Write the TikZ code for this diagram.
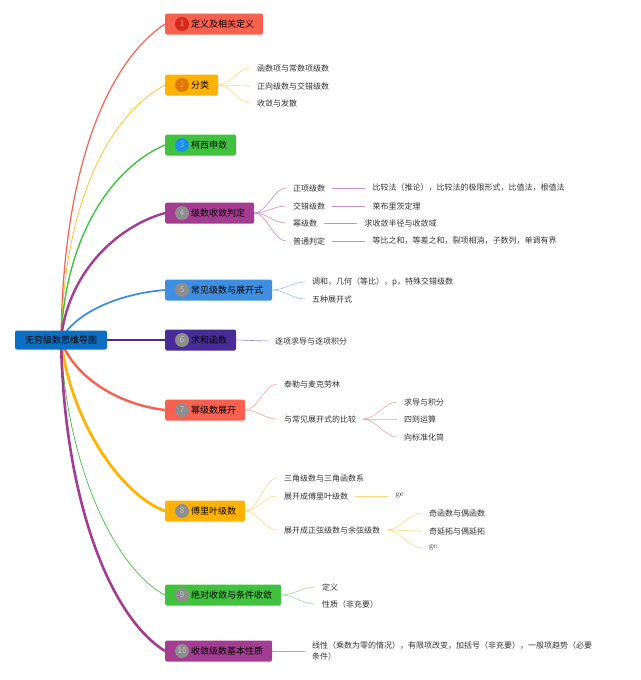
\documentclass[tikz,border=0pt]{standalone}
\usepackage{fontspec}
\newfontfamily\cjk{Noto Sans CJK SC}
\usetikzlibrary{positioning,backgrounds}

\definecolor{mmred}{HTML}{F8604F}
\definecolor{mmredd}{HTML}{D42A1C}
\definecolor{mmredl}{HTML}{F8A59C}
\definecolor{mmamber}{HTML}{FFB300}
\definecolor{mmamberd}{HTML}{E07800}
\definecolor{mmamberl}{HTML}{FFD77F}
\definecolor{mmgreen}{HTML}{41C23F}
\definecolor{mmgreenl}{HTML}{98DC94}
\definecolor{mmpurple}{HTML}{A43D92}
\definecolor{mmpurplel}{HTML}{D08CC5}
\definecolor{mmblue}{HTML}{3F8FE0}
\definecolor{mmbluel}{HTML}{98C3F0}
\definecolor{mmindigo}{HTML}{482C98}
\definecolor{mmindigol}{HTML}{9A8ACF}
\definecolor{mmroot}{HTML}{0B6FC4}
\definecolor{mmdot}{HTML}{8E8E8E}
\definecolor{mmdotnum}{HTML}{C4C4C4}
\definecolor{mmcyan}{HTML}{1E8FE6}
\definecolor{mmcyanl}{HTML}{6DB8F0}
\definecolor{mmamberdl}{HTML}{F5A040}
\definecolor{mmtext}{HTML}{333333}

\tikzset{
  branch/.style={anchor=west, fill=#1, rounded corners=1.5pt, minimum height=21pt,
    inner xsep=9pt, inner ysep=0pt, font=\cjk\fontsize{9}{9}\selectfont, text=black},
  numdot/.style={circle, fill=#1, minimum size=14pt, inner sep=0pt,
    font=\cjk\fontsize{8}{8}\selectfont},
  leaf/.style={anchor=west, inner xsep=7pt, inner ysep=1pt,
    font=\cjk\fontsize{8}{10}\selectfont, text=mmtext},
  gleaf/.style={leaf, font=\rmfamily\fontsize{8}{9}\selectfont},
  trunk/.style={draw=#1},
  twig/.style={draw=#1, line width=0.6pt},
}

\begin{document}
\begin{tikzpicture}[x=1pt,y=-1pt]
\useasboundingbox (0,0) rectangle (640,680);

% root
\node[fill=mmroot, rounded corners=2pt, minimum height=19pt, inner xsep=10pt, inner ysep=0pt,
  font=\cjk\fontsize{9}{9}\selectfont] (root) at (61,340) {无穷级数思维导图};

% main branches
\node[branch=mmred] (b1) at (165,24) {\hspace*{17pt}定义及相关定义};
\node[numdot=mmredd, text=mmredl] (n1) at ([xshift=17pt]b1.west) {1};
\node[branch=mmamber] (b2) at (165,85) {\hspace*{17pt}分类};
\node[numdot=mmamberd, text=mmamberdl] (n2) at ([xshift=17pt]b2.west) {2};
\node[branch=mmgreen] (b3) at (165,145) {\hspace*{17pt}柯西申敛};
\node[numdot=mmcyan, text=mmcyanl] (n3) at ([xshift=17pt]b3.west) {3};
\node[branch=mmpurple] (b4) at (165,213) {\hspace*{17pt}级数收敛判定};
\node[numdot=mmdot, text=mmdotnum] (n4) at ([xshift=17pt]b4.west) {4};
\node[branch=mmblue] (b5) at (165,290) {\hspace*{17pt}常见级数与展开式};
\node[numdot=mmdot, text=mmdotnum] (n5) at ([xshift=17pt]b5.west) {5};
\node[branch=mmindigo] (b6) at (165,340) {\hspace*{17pt}求和函数};
\node[numdot=mmdot, text=mmdotnum] (n6) at ([xshift=17pt]b6.west) {6};
\node[branch=mmred] (b7) at (165,410) {\hspace*{17pt}幂级数展开};
\node[numdot=mmdot, text=mmdotnum] (n7) at ([xshift=17pt]b7.west) {7};
\node[branch=mmamber] (b8) at (165,511) {\hspace*{17pt}傅里叶级数};
\node[numdot=mmdot, text=mmdotnum] (n8) at ([xshift=17pt]b8.west) {8};
\node[branch=mmgreen] (b9) at (165,595) {\hspace*{17pt}绝对收敛与条件收敛};
\node[numdot=mmdot, text=mmdotnum] (n9) at ([xshift=17pt]b9.west) {9};
\node[branch=mmpurple] (b10) at (165,651) {\hspace*{17pt}收敛级数基本性质};
\node[numdot=mmdot, text=mmdotnum] (n10) at ([xshift=17pt]b10.west) {10};

% sub topics
\node[leaf] (c21) at (250,68) {函数项与常数项级数};
\node[leaf] (c22) at (250,86) {正向级数与交错级数};
\node[leaf] (c23) at (250,103) {收敛与发散};

\node[leaf] (c41) at (286,188) {正项级数};
\node[leaf] (c42) at (286,206) {交错级数};
\node[leaf] (c43) at (286,223) {幂级数};
\node[leaf] (c44) at (286,241) {普通判定};
\node[leaf, right=33pt of c41] (g41) {比较法（推论），比较法的极限形式，比值法，根值法};
\node[leaf, right=33pt of c42] (g42) {莱布里茨定理};
\node[leaf, right=33pt of c43] (g43) {求收敛半径与收敛域};
\node[leaf, right=33pt of c44] (g44) {等比之和，等差之和，裂项相消，子数列，单调有界};

\node[leaf] (c51) at (305,282) {调和，几何（等比），p，特殊交错级数};
\node[leaf] (c52) at (305,299) {五种展开式};

\node[leaf] (c61) at (268,341) {逐项求导与逐项积分};

\node[leaf] (c71) at (277,384) {泰勒与麦克劳林};
\node[leaf] (c72) at (277,419) {与常见展开式的比较};
\node[leaf] (g71) at (397,402) {求导与积分};
\node[leaf] (g72) at (397,419) {四则运算};
\node[leaf] (g73) at (397,437) {向标准化简};

\node[leaf] (c81) at (277,478) {三角级数与三角函数系};
\node[leaf] (c82) at (277,496) {展开成傅里叶级数};
\node[leaf] (c83) at (277,530) {展开成正弦级数与余弦级数};
\node[gleaf, right=33pt of c82] (g81) {ge};
\node[leaf] (g82) at (422,513) {奇函数与偶函数};
\node[leaf] (g83) at (422,531) {奇延拓与偶延拓};
\node[gleaf] (g84) at (422,548) {ge};

\node[leaf] (c91) at (315,587) {定义};
\node[leaf] (c92) at (315,604) {性质（非充要）};

\node[leaf, align=left, font=\cjk\fontsize{8}{11.5}\selectfont] (c101) at (305,651)
  {线性（乘数为零的情况），有限项改变，加括号（非充要），一般项趋势（必要\\条件）};

\begin{scope}[on background layer]
\fill[white] (0,0) rectangle (640,680);
% trunks
\draw[trunk=mmred, line width=1.2pt] (root.center) .. controls +(2,-174) and +(-57,38) .. (b1.west);
\draw[trunk=mmamber, line width=0.6pt] (root.center) .. controls +(3,-140) and +(-55,30) .. (b2.west);
\draw[trunk=mmgreen, line width=1.4pt] (root.center) .. controls +(4,-105) and +(-52,22) .. (b3.west);
\draw[trunk=mmpurple, line width=2.4pt] (root.center) .. controls +(6,-65) and +(-50,14) .. (b4.west);
\draw[trunk=mmblue, line width=1.8pt] (root.center) .. controls +(12,-25) and +(-50,4) .. (b5.west);
\draw[trunk=mmindigo, line width=2.4pt] (root.east) -- (b6.west);
\draw[trunk=mmred, line width=2.4pt] (root.center) .. controls +(12,35) and +(-50,-6) .. (b7.west);
\draw[trunk=mmamber, line width=2.8pt] (root.center) .. controls +(9,78) and +(-46,-17) .. (b8.west);
\draw[trunk=mmgreen, line width=0.7pt] (root.center) .. controls +(5,125) and +(-50,-26) .. (b9.west);
\draw[trunk=mmpurple, line width=2.6pt] (root.center) .. controls +(3,160) and +(-55,-34) .. (b10.west);

% twigs
\foreach \c in {c21,c22,c23}
  \draw[twig=mmamberl] (b2.east) .. controls +(12,0) and +(-12,0) .. (\c.west);
\foreach \c in {c41,c42,c43,c44}
  \draw[twig=mmpurplel] (b4.east) .. controls +(12,0) and +(-12,0) .. (\c.west);
\foreach \i in {1,2,3,4}
  \draw[twig=mmpurplel] (c4\i.east) -- (g4\i.west);
\foreach \c in {c51,c52}
  \draw[twig=mmbluel] (b5.east) .. controls +(12,0) and +(-12,0) .. (\c.west);
\draw[twig=mmindigol] (b6.east) -- (c61.west);
\foreach \c in {c71,c72}
  \draw[twig=mmredl] (b7.east) .. controls +(12,0) and +(-12,0) .. (\c.west);
\foreach \c in {g71,g72,g73}
  \draw[twig=mmredl] (c72.east) .. controls +(12,0) and +(-12,0) .. (\c.west);
\foreach \c in {c81,c82,c83}
  \draw[twig=mmamberl] (b8.east) .. controls +(12,0) and +(-12,0) .. (\c.west);
\draw[twig=mmamberl] (c82.east) -- (g81.west);
\foreach \c in {g82,g83,g84}
  \draw[twig=mmamberl] (c83.east) .. controls +(12,0) and +(-12,0) .. (\c.west);
\foreach \c in {c91,c92}
  \draw[twig=mmgreenl] (b9.east) .. controls +(12,0) and +(-12,0) .. (\c.west);
\draw[twig=mmpurplel] (b10.east) -- (c101.west);
\end{scope}
\end{tikzpicture}
\end{document}
